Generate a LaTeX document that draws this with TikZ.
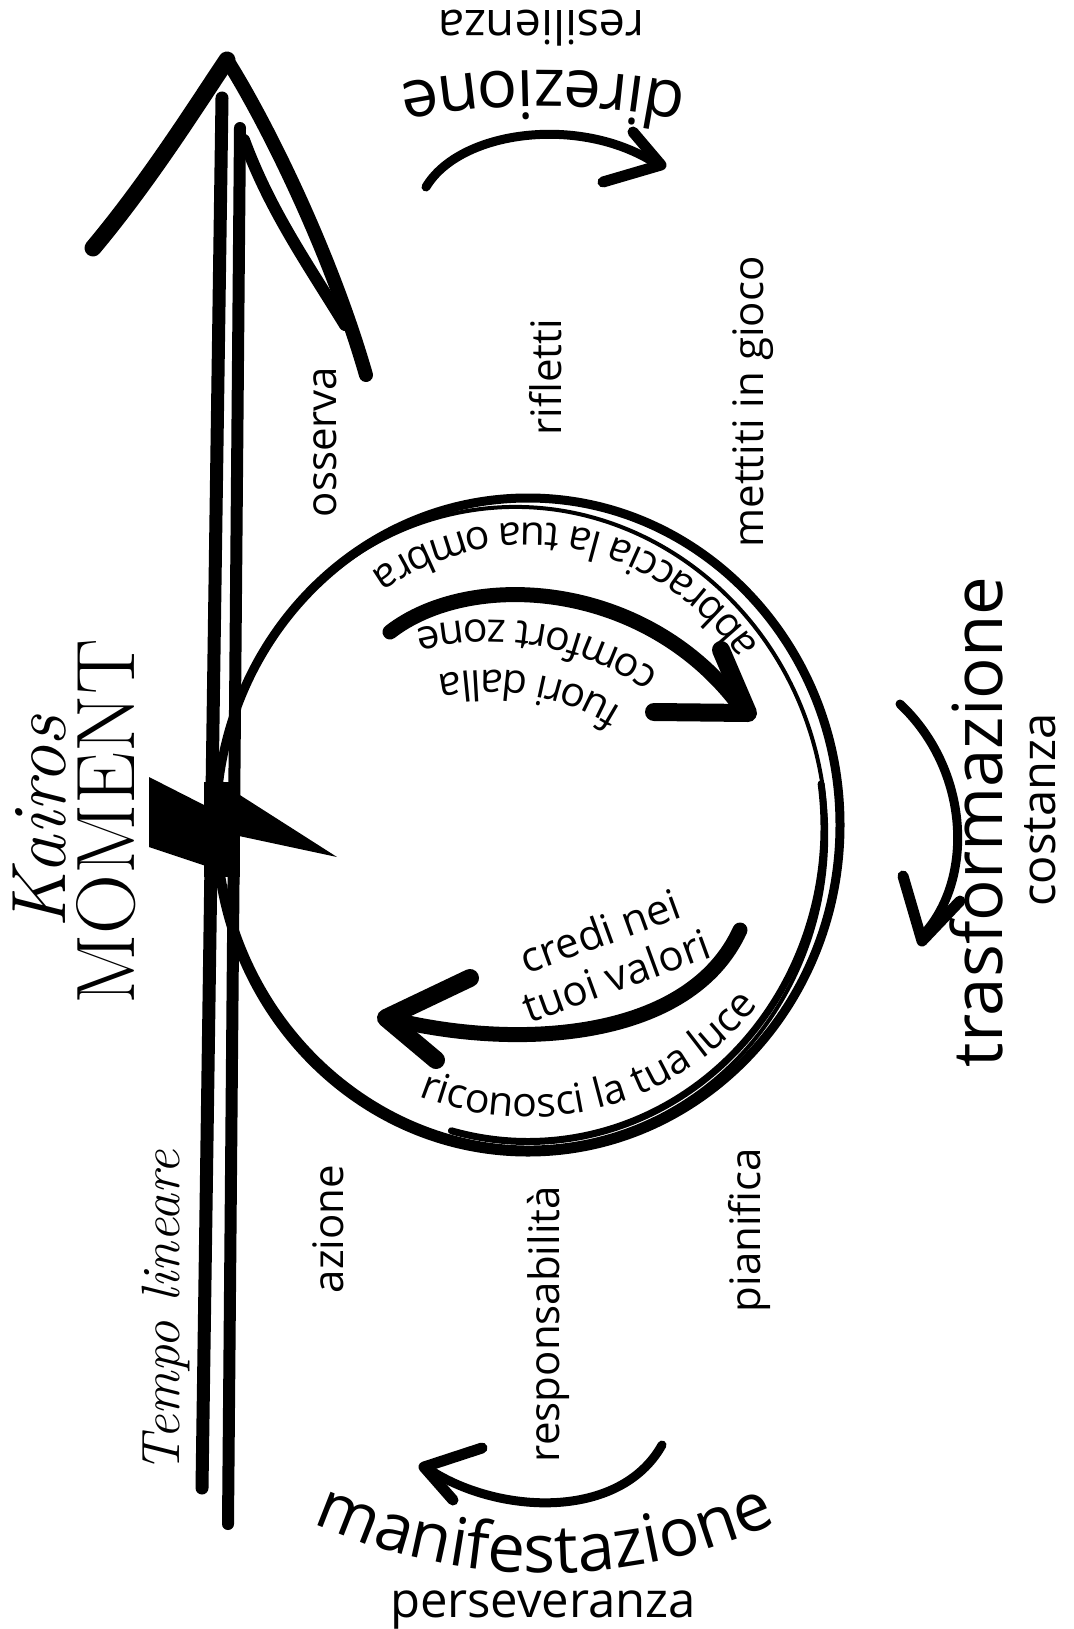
\documentclass[tikz,border=0pt]{standalone}
\usepackage{fontspec}
\newfontfamily\opensans{Open Sans}
\usetikzlibrary{calc,decorations.text}

\newcommand\fntInner{\opensans\fontsize{41}{46}\selectfont}
\newcommand\fntWord{\opensans\fontsize{42}{50}\selectfont}
\newcommand\fntSub{\opensans\fontsize{47}{52}\selectfont}
\newcommand\fntBig{\opensans\fontsize{67}{72}\selectfont}

\tikzset{
  stroke/.style={line cap=round, line join=round},
  shaft/.style={stroke, line width=13pt},
  barb/.style={stroke, line width=17pt},
  word/.style={font=\fntWord, inner sep=0pt, rotate=90},
  bent/.style={decorate, decoration={text along path, text align=center, text={|#1}}},
}

\begin{document}
\begin{tikzpicture}[x=1pt,y=-1pt]

      \fill[white] (0,0) rectangle (1073,1629);
      \useasboundingbox (0,0) rectangle (1073,1629);

      % draw the time arrow
      \draw[shaft] (202,1488) -- (222,98);
      \draw[shaft, line width=12pt] (228,1524) -- (240,128);
      \draw[barb] (93,248) .. controls (150,180) and (200,100) .. (227,60);
      \draw[barb, line width=14pt] (227,60) .. controls (265,120) and (330,250) .. (366,375);
      \draw[barb, line width=12pt] (244,140) .. controls (270,210) and (305,260) .. (345,325);

      % the kairos flag
      \fill (149,777) -- (206,806) -- (206,866) -- (149,847) -- cycle;
      \fill (204,782) rectangle (240,877);
      \fill (232,790) -- (337,857) -- (239,836) -- cycle;

      % draw the circle
      \coordinate (c) at (528,825);
      \draw[line width=9pt] (c) ellipse [x radius=312, y radius=327];
      \draw[line width=4pt, rotate around={12:(c)}] (522,826) ellipse [x radius=303, y radius=321];
      \draw[stroke, line width=7pt] ($(c)+(-8:296)$) arc [start angle=-8, end angle=105, x radius=296, y radius=314];

      % the inner arrows
      \draw[stroke, line width=15pt] (390,632) .. controls (470,570) and (640,580) .. (735,700);
      \draw[barb, line width=18pt] (721,650) -- (748,713) -- (654,712);
      \draw[stroke, line width=15pt] (740,930) .. controls (690,1040) and (520,1050) .. (395,1020);
      \draw[barb, line width=18pt] (470,978) -- (386,1018) -- (436,1060);

      % the outer arrows
      \draw[stroke, line width=9pt] (426,187) .. controls (460,130) and (580,115) .. (655,163);
      \draw[barb, line width=11pt] (633,132) -- (661,165) -- (603,182);
      \draw[stroke, line width=9pt] (900,704) .. controls (970,770) and (975,880) .. (922,936);
      \draw[barb, line width=11pt] (903,876) -- (922,941) -- (960,901);
      \draw[stroke, line width=9pt] (662,1445) .. controls (620,1520) and (500,1515) .. (430,1470);
      \draw[barb, line width=11pt] (482,1448) -- (424,1467) -- (453,1500);

      % the words round the circle
      \foreach \w/\x/\y [count=\i] in {osserva/325/442, rifletti/546/377, mettiti in gioco/753/402,
        azione/328/1229, responsabilità/548/1324, pianifica/749/1230}
        \node[word] (w\i) at (\x,\y) {\w};

      % the bent texts
      \path[bent=\fntInner|abbraccia la tua ombra] ($(c)+(-25:285 and 302)$) arc [start angle=-25, end angle=-135, x radius=285, y radius=302];
      \coordinate (cz) at (490,920);
      \path[bent=\fntInner|comfort zone] ($(cz)+(-45:300)$) arc [start angle=-45, end angle=-115, radius=300];
      \path[bent=\fntInner|fuori dalla] ($(cz)+(-45:250)$) arc [start angle=-45, end angle=-115, radius=250];
      \path[bent=\fntInner|riconosci la tua luce] ($(c)+(122:292)$) arc [start angle=122, end angle=28, radius=292];
      \node[font=\opensans\fontsize{42}{47}\selectfont, rotate=20, align=center, inner sep=0pt] (credi) at (608,953) {credi nei\\tuoi valori};

      \coordinate (cd) at (543,780);
      \path[bent=\fntBig|direzione] ($(cd)+(-75:710)$) arc [start angle=-75, end angle=-105, radius=710];
      \coordinate (cm) at (545,1018);
      \path[bent=\fntBig|manifestazione] ($(cm)+(122:555)$) arc [start angle=122, end angle=58, radius=555];

      % the four qualities
      \node[font=\fntSub, rotate=180, inner sep=0pt] (resil) at (541,28) {resilienza};
      \node[font=\opensans\fontsize{69}{72}\selectfont, rotate=90, inner sep=0pt] (trasf) at (976,822) {trasformazione};
      \node[font=\fntSub, rotate=90, inner sep=0pt] (cost) at (1040,810) {costanza};
      \node[font=\opensans\fontsize{49}{54}\selectfont, inner sep=0pt, anchor=base] (persev) at (543,1617) {perseveranza};

      % kairos and linear time
      \node[font=\fontsize{77}{80}\selectfont\itshape, rotate=90, inner sep=0pt] (kairos) at (40,822) {Kairos};
      \node[font=\fontsize{83}{86}\selectfont, rotate=90, inner sep=0pt] (moment) at (106,822) {MOMENT};
      \node[font=\fontsize{54}{58}\selectfont\itshape, rotate=90, inner sep=0pt] (tempo) at (166,1312) {Tempo lineare};

\end{tikzpicture}
\end{document}
